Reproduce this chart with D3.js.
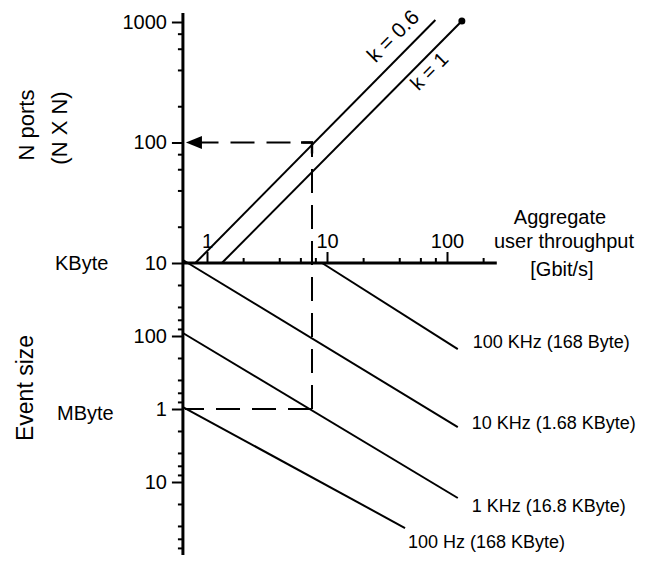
<!DOCTYPE html>
<meta charset="utf-8">
<script src="https://cdn.jsdelivr.net/npm/d3@7"></script>
<style>
    body { margin: 0; background: #fff; }
    svg text { font-family: "Liberation Sans", Arial, sans-serif; fill: #000; }
    .axis path.domain { display: none; }
    .axis line { stroke: #000; stroke-width: 2; }
    .axis text { font-size: 20px; }
    .spine { stroke: #000; stroke-width: 3; }
    .curve { fill: none; stroke: #000; stroke-width: 2; }
    .guide { fill: none; stroke: #000; stroke-width: 2; stroke-dasharray: 24, 12; }
</style>
<body>
<script>
    // throughput axis, Gbit/s
    const xMajor = [1, 10, 100];
    const xMinor = [2, 4, 6, 8, 20, 40, 60, 80, 200];

    // N ports axis
    const nMajor = [10, 100, 1000];
    const nMinor = [20, 40, 60, 80, 200, 400, 600, 800];

    // event size axis, in KByte (grows downward)
    const eMajor = [10, 100, 1000, 10000];
    const eMinor = [20, 40, 60, 80, 200, 400, 600, 800, 2000, 4000, 6000, 8000, 20000, 40000, 60000, 80000];
    const eLabels = ["10", "100", "1", "10"];

    // switch size lines, [throughput, N] at both ends
    const kNames = ["k = 0.6", "k = 1"];
    const kLines = [
        [[0.8, 10], [80, 1040]],
        [[1.33, 10], [133, 1020]]
    ];

    // event rate lines, [throughput, event size KByte] at both ends
    const rateNames = ["100 KHz (168 Byte)", "10 KHz (1.68 KByte)", "1 KHz (16.8 KByte)", "100 Hz (168 KByte)"];
    const rateLines = [
        [[9.1, 10], [123, 151]],
        [[0.63, 9.1], [123, 1766]],
        [[0.63, 91], [123, 16560]],
        [[0.63, 940], [44.7, 42700]]
    ];

    // worked example: 7.5 Gbit/s, 1 MByte events -> 100 ports
    const exampleX = 7.5;
    const exampleN = 100;
    const exampleE = 1000;

    // label offsets from the line end (layout only)
    const rateLabelOffset = [[15, -1], [14, 2], [14, 14], [3, 20]];

    const width = 657, height = 562;

    const svg = d3.select("body").append("svg")
        .attr("width", width)
        .attr("height", height);

    const x = d3.scaleLog().domain([1, 100]).range([207, 447]);
    const yN = d3.scaleLog().domain([10, 1000]).range([263, 22]);
    const yE = d3.scaleLog().domain([10, 10000]).range([263, 482]);

    const xLo = 0.63, xHi = 260, nHi = 1190, eHi = 100000;
    const x0 = x(xLo), y0 = yN(10);

    // axes: ticks first, spines on top
    svg.append("g").attr("class", "axis")
        .attr("transform", `translate(${x0},0)`)
        .call(d3.axisLeft(yN).tickValues(nMajor).tickSize(11).tickPadding(5).tickFormat(d3.format("d")));
    svg.append("g").attr("class", "axis")
        .attr("transform", `translate(${x0},0)`)
        .call(d3.axisLeft(yN).tickValues(nMinor).tickSize(5).tickFormat(""));

    svg.append("g").attr("class", "axis")
        .attr("transform", `translate(${x0},0)`)
        .call(d3.axisLeft(yE).tickValues(eMajor.slice(1)).tickSize(11).tickPadding(5)
            .tickFormat((d, i) => eLabels[i + 1]));
    svg.append("g").attr("class", "axis")
        .attr("transform", `translate(${x0},0)`)
        .call(d3.axisLeft(yE).tickValues(eMinor).tickSize(5).tickFormat(""));

    svg.append("g").attr("class", "axis")
        .attr("transform", `translate(0,${y0})`)
        .call(d3.axisTop(x).tickValues(xMajor).tickSize(11).tickPadding(4).tickFormat(d3.format("d")));
    svg.append("g").attr("class", "axis")
        .attr("transform", `translate(0,${y0})`)
        .call(d3.axisTop(x).tickValues(xMinor).tickSize(5).tickFormat(""));

    svg.append("line").attr("class", "spine")
        .attr("x1", x0).attr("x2", x0)
        .attr("y1", yN(nHi)).attr("y2", yE(eHi));
    svg.append("line").attr("class", "spine")
        .attr("x1", x0).attr("x2", x(xHi))
        .attr("y1", y0).attr("y2", y0);

    // port lines
    const lineN = d3.line().x(d => x(d[0])).y(d => yN(d[1]));
    svg.selectAll(".kline").data(kLines).enter().append("path")
        .attr("class", "curve")
        .attr("d", lineN);

    const kEnd = kLines[1][1];
    svg.append("circle")
        .attr("cx", x(kEnd[0])).attr("cy", yN(kEnd[1]))
        .attr("r", 3.5).attr("fill", "#000");

    svg.append("text").attr("transform", "translate(398,41) rotate(-45)")
        .attr("text-anchor", "middle").style("font-size", "21px").text(kNames[0]);
    svg.append("text").attr("transform", "translate(434,76) rotate(-45)")
        .attr("text-anchor", "middle").style("font-size", "20px").text(kNames[1]);

    // event rate lines
    const lineE = d3.line().x(d => x(d[0])).y(d => yE(d[1]));
    svg.selectAll(".rline").data(rateLines).enter().append("path")
        .attr("class", "curve")
        .attr("d", lineE);

    svg.selectAll(".rlabel").data(rateLines).enter().append("text")
        .attr("x", (d, i) => x(d[1][0]) + rateLabelOffset[i][0])
        .attr("y", (d, i) => yE(d[1][1]) + rateLabelOffset[i][1])
        .style("font-size", "18px")
        .text((d, i) => rateNames[i]);

    // dashed read-off path
    const cx = x(exampleX), cyN = yN(exampleN), cyE = yE(exampleE);
    svg.append("path").attr("class", "guide")
        .attr("d", `M${cx},${cyE}V${cyN}H${x0 + 18}`);
    svg.append("path").attr("class", "guide")
        .attr("d", `M${cx},${cyE}H${x0 + 2}`);
    svg.append("path")
        .attr("d", `M${x0 + 3},${cyN}l16,-6.5v13z`)
        .attr("fill", "#000");
    svg.append("path")
        .attr("d", `M${cx - 11},${cyN}H${cx}V${cyN + 11}`)
        .attr("fill", "none").attr("stroke", "#000").attr("stroke-width", 2.4);

    // titles
    svg.append("text").attr("transform", "translate(34,125) rotate(-90)")
        .attr("text-anchor", "middle").style("font-size", "22px").text("N ports");
    svg.append("text").attr("transform", "translate(67,128) rotate(-90)")
        .attr("text-anchor", "middle").style("font-size", "22px").text("(N X N)");
    svg.append("text").attr("transform", "translate(33,388) rotate(-90)")
        .attr("text-anchor", "middle").style("font-size", "23px").text("Event size");

    svg.append("text").attr("x", 55).attr("y", 270).style("font-size", "20px").text("KByte");
    svg.append("text").attr("x", 57).attr("y", 420).style("font-size", "20px").text("MByte");

    const xTitle = svg.append("text").attr("text-anchor", "middle").style("font-size", "20px");
    xTitle.append("tspan").attr("x", 560).attr("y", 224).text("Aggregate");
    xTitle.append("tspan").attr("x", 564).attr("y", 248).text("user throughput");
    xTitle.append("tspan").attr("x", 562).attr("y", 276).text("[Gbit/s]");
</script>
</body>
</html>
